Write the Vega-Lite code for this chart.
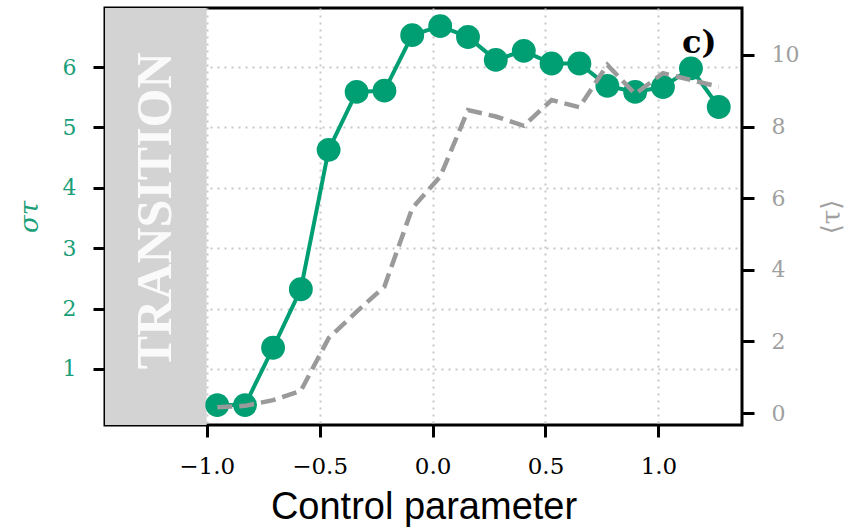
{
  "$schema": "https://vega.github.io/schema/vega-lite/v6.json",
  "width": 637,
  "height": 417,
  "autosize": {"type": "none"},
  "padding": {"left": 105, "top": 8, "right": 106, "bottom": 105},
  "background": "white",
  "config": {
    "view": {"stroke": "black", "strokeWidth": 3},
    "axis": {
      "labelFont": "DejaVu Serif",
      "labelFontSize": 22,
      "tickSize": 12,
      "tickWidth": 3,
      "tickColor": "black",
      "domain": false,
      "labelPadding": 17,
      "gridColor": "#c8c8c8",
      "gridDash": [2, 5],
      "gridWidth": 2
    }
  },
  "datasets": {
    "series": [
      {"x": -0.953, "sigma": 0.40, "tau": 0.16},
      {"x": -0.830, "sigma": 0.40, "tau": 0.20},
      {"x": -0.706, "sigma": 1.35, "tau": 0.36},
      {"x": -0.583, "sigma": 2.32, "tau": 0.62},
      {"x": -0.460, "sigma": 4.63, "tau": 2.09},
      {"x": -0.336, "sigma": 5.59, "tau": 2.83},
      {"x": -0.213, "sigma": 5.61, "tau": 3.53},
      {"x": -0.090, "sigma": 6.53, "tau": 5.72},
      {"x": 0.034, "sigma": 6.68, "tau": 6.60},
      {"x": 0.157, "sigma": 6.50, "tau": 8.46},
      {"x": 0.280, "sigma": 6.12, "tau": 8.28},
      {"x": 0.404, "sigma": 6.27, "tau": 8.02},
      {"x": 0.527, "sigma": 6.06, "tau": 8.74},
      {"x": 0.650, "sigma": 6.06, "tau": 8.54},
      {"x": 0.774, "sigma": 5.69, "tau": 9.72},
      {"x": 0.897, "sigma": 5.59, "tau": 8.91},
      {"x": 1.020, "sigma": 5.67, "tau": 9.49},
      {"x": 1.144, "sigma": 5.98, "tau": 9.30},
      {"x": 1.267, "sigma": 5.34, "tau": 9.11}
    ],
    "band": [{"x0": -1.45, "x1": -1.0}],
    "labels": [
      {"x": -1.226, "y": 3.62, "label": "TRANSITION", "kind": "band"},
      {"x": 1.181, "y": 6.40, "label": "c)", "kind": "panel"}
    ]
  },
  "layer": [
    {
      "layer": [
        {
          "data": {"name": "band"},
          "mark": {"type": "rect", "color": "#d3d3d3"},
          "encoding": {
            "x": {"field": "x0", "type": "quantitative", "scale": {"domain": [-1.45, 1.37], "nice": false, "zero": false},
              "axis": {"values": [-1, -0.5, 0, 0.5, 1], "format": ".1f", "labelColor": "black", "labelFontSize": 23, "labelPadding": 18, "title": "Control parameter",
                "titleFont": "Liberation Sans", "titleFontSize": 38, "titleFontWeight": "normal", "titleColor": "black", "titlePadding": 10, "grid": true}},
            "x2": {"field": "x1"}
          }
        },
        {
          "data": {"name": "series"},
          "mark": {"type": "line", "color": "#009E73", "strokeWidth": 4},
          "encoding": {
            "x": {"field": "x", "type": "quantitative"},
            "y": {"field": "sigma", "type": "quantitative", "scale": {"domain": [0.07, 6.98], "nice": false, "zero": false},
              "axis": {"values": [1, 2, 3, 4, 5, 6], "format": "d", "labelColor": "#1a9e77", "title": "στ", "titleColor": "#1a9e77",
                "titleFont": "DejaVu Serif", "titleFontStyle": "italic", "titleFontWeight": "normal", "titleFontSize": 26, "titlePadding": 20, "grid": true}}
          }
        },
        {
          "data": {"name": "series"},
          "mark": {"type": "circle", "color": "#009E73", "opacity": 1, "size": 570},
          "encoding": {
            "x": {"field": "x", "type": "quantitative"},
            "y": {"field": "sigma", "type": "quantitative"}
          }
        },
        {
          "data": {"name": "labels"},
          "transform": [{"filter": "datum.kind == 'band'"}],
          "mark": {"type": "text", "angle": 270, "font": "Liberation Serif", "fontWeight": "bold", "fontSize": 50, "color": "white", "opacity": 0.9, "align": "center", "baseline": "middle"},
          "encoding": {
            "x": {"field": "x", "type": "quantitative"},
            "y": {"field": "y", "type": "quantitative"},
            "text": {"field": "label"}
          }
        },
        {
          "data": {"name": "labels"},
          "transform": [{"filter": "datum.kind == 'panel'"}],
          "mark": {"type": "text", "font": "DejaVu Serif", "fontWeight": "bold", "fontSize": 32, "color": "black", "align": "center", "baseline": "middle"},
          "encoding": {
            "x": {"field": "x", "type": "quantitative"},
            "y": {"field": "y", "type": "quantitative"},
            "text": {"field": "label"}
          }
        }
      ]
    },
    {
      "data": {"name": "series"},
      "mark": {"type": "line", "color": "#9a9a9a", "strokeWidth": 4.5, "strokeDash": [15, 7]},
      "encoding": {
        "x": {"field": "x", "type": "quantitative"},
        "y": {"field": "tau", "type": "quantitative", "scale": {"domain": [-0.335, 11.31], "nice": false, "zero": false},
          "axis": {"orient": "right", "values": [0, 2, 4, 6, 8, 10], "labelColor": "#a0a0a0", "labelPadding": 17, "title": "⟨τ⟩", "titleColor": "#a0a0a0",
            "titleFont": "DejaVu Serif", "titleFontWeight": "normal", "titleFontSize": 26, "titleAngle": 270, "titlePadding": 46, "grid": false}}
      }
    }
  ],
  "resolve": {"scale": {"y": "independent"}}
}
